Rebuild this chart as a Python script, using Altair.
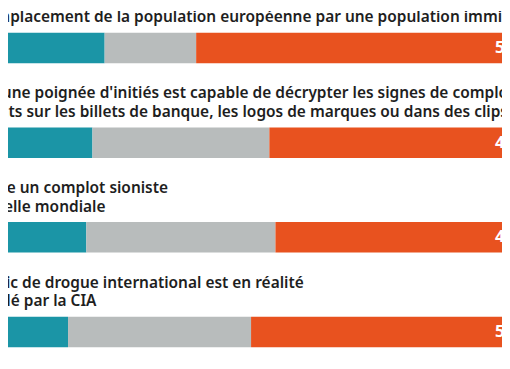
import altair as alt
import pandas as pd

# Statements (two lines each, as printed)
line1 = [
    "L'immigration est organisée délibérément par nos élites pour aboutir à terme",
    "Seule une poignée d'initiés est capable de décrypter les signes de complot",
    "Il existe un complot sioniste",
    "Le trafic de drogue international est en réalité",
]
line2 = [
    "au remplacement de la population européenne par une population immigrée",
    "présents sur les billets de banque, les logos de marques ou dans des clips",
    "à l'échelle mondiale",
    "contrôlé par la CIA",
]
keys = ["q1", "q2", "q3", "q4"]

series = ["D'accord", "Sans opinion", "Pas d'accord"]
colors = ["#1b95a6", "#b8bcbc", "#e8521f"]
agree = [26, 24, 23, 20]
neutral = [15, 29, 31, 30]
disagree = [59, 47, 46, 50]

rows = []
for i, k in enumerate(keys):
    vals = [agree[i], neutral[i], disagree[i]]
    start = 0
    for j, s in enumerate(series):
        rows.append({"q": k, "series": s, "order": j, "value": vals[j],
                     "start": start, "end": start + vals[j],
                     "label": f"{vals[j]}%"})
        start += vals[j]
df = pd.DataFrame(rows)
tdf = pd.DataFrame({"q": keys, "l1": line1, "l2": line2, "tx": [1.8] * 4})

FONT = "Noto Sans"
xscale = alt.Scale(domain=[10.16, 91.13], nice=False, zero=False)
yscale = alt.Scale(domain=keys, paddingInner=0.678, paddingOuter=0.2155, align=0.536)
X = lambda f: alt.X(f, type="quantitative", scale=xscale, axis=None)
Y = alt.Y("q:N", scale=yscale, axis=None, sort=keys)

bars = alt.Chart(df).mark_bar(clip=True).encode(
    x=X("start"), x2="end", y=Y,
    color=alt.Color("series:N", scale=alt.Scale(domain=series, range=colors), legend=None),
)

left_lab = alt.Chart(df[df["order"] == 0]).transform_calculate(px="datum.start + 4.4").mark_text(
    clip=True, align="left", baseline="middle", font=FONT, fontWeight="bold", fontSize=17, color="white"
).encode(x=X("px"), y=Y, text="label:N")

right_lab = alt.Chart(df[df["order"] == 2]).transform_calculate(px="datum.end - 4.4").mark_text(
    clip=True, align="right", baseline="middle", font=FONT, fontWeight="bold", fontSize=17, color="white"
).encode(x=X("px"), y=Y, text="label:N")

t1 = alt.Chart(tdf).mark_text(
    clip=True, align="left", baseline="alphabetic", dy=-45, font=FONT, fontWeight=600,
    fontSize=15.7, color="#1e1e1e"
).encode(x=X("tx"), y=Y, text="l1:N")
t2 = alt.Chart(tdf).mark_text(
    clip=True, align="left", baseline="alphabetic", dy=-26.2, font=FONT, fontWeight=600,
    fontSize=15.7, color="#1e1e1e"
).encode(x=X("tx"), y=Y, text="l2:N")

chart = alt.layer(bars, left_lab, right_lab, t1, t2).properties(
    width=502, height=361, autosize=alt.AutoSizeParams(type="none"), padding=0
).configure(background="white", view=alt.ViewConfig(stroke=None))

chart.save("out.html", embed_options={"renderer": "svg", "actions": False})
